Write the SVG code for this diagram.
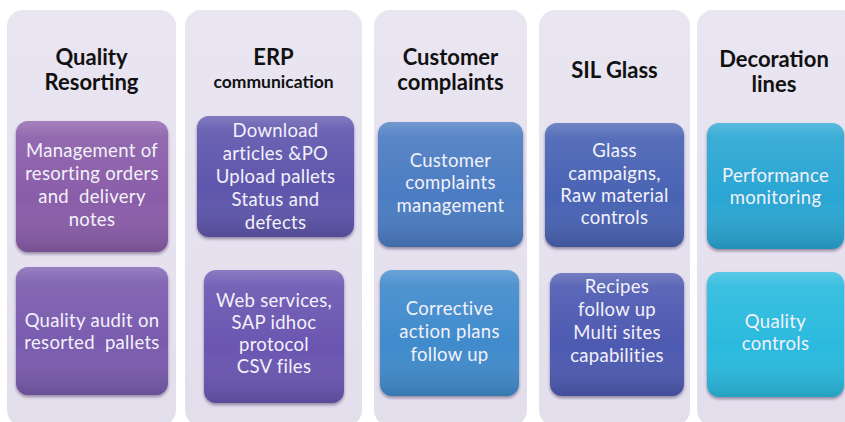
<svg xmlns="http://www.w3.org/2000/svg" width="845" height="422" viewBox="0 0 845 422">
  <defs>
    <linearGradient id="colFill" x1="0" y1="0" x2="0" y2="1">
      <stop offset="0" stop-color="#e9e5f1"/>
      <stop offset="1" stop-color="#e3deec"/>
    </linearGradient>
    <linearGradient id="gloss" x1="0" y1="0" x2="0" y2="1">
      <stop offset="0" stop-color="#ffffff" stop-opacity="0.22"/>
      <stop offset="0.12" stop-color="#ffffff" stop-opacity="0.08"/>
      <stop offset="0.6" stop-color="#ffffff" stop-opacity="0"/>
      <stop offset="1" stop-color="#000000" stop-opacity="0.14"/>
    </linearGradient>
    <filter id="shadow" x="-10%" y="-10%" width="120%" height="125%">
      <feDropShadow dx="0" dy="2" stdDeviation="1.6" flood-color="#2a1f40" flood-opacity="0.45"/>
    </filter>
    <style>
      .col { fill: url(#colFill); }
      .box { filter: url(#shadow); }
      .gloss { fill: url(#gloss); }
      .head { font-family: Lato, "Open Sans", "Liberation Sans", sans-serif; font-weight: bold; font-size: 22px; fill: #111111; text-anchor: middle; }
      .sub { font-size: 17.5px; }
      .txt { font-family: Lato, "Open Sans", "Liberation Sans", sans-serif; font-size: 18.5px; letter-spacing: 0.3px; fill: #f3f1f9; text-anchor: middle; white-space: pre; }
    </style>
  </defs>

  <rect width="845" height="422" fill="#ffffff"/>

  <!-- Column 1: Quality Resorting -->
  <g id="col-quality-resorting">
    <rect class="col" x="7" y="10" width="169" height="416" rx="16"/>
    <text class="head" x="91.5" y="65">Quality</text>
    <text class="head" x="91.5" y="90">Resorting</text>
  </g>
  <g id="box-resorting-orders">
    <rect class="box" x="16" y="121" width="152" height="131" rx="12" fill="#8a5da9"/>
    <rect class="gloss" x="16" y="121" width="152" height="131" rx="12"/>
    <text class="txt" x="92" y="157">Management of</text>
    <text class="txt" x="92" y="180">resorting orders</text>
    <text class="txt" x="92" y="203">and  delivery</text>
    <text class="txt" x="92" y="226">notes</text>
  </g>
  <g id="box-quality-audit">
    <rect class="box" x="16" y="267" width="152" height="128" rx="12" fill="#7a5baf"/>
    <rect class="gloss" x="16" y="267" width="152" height="128" rx="12"/>
    <text class="txt" x="92" y="327">Quality audit on</text>
    <text class="txt" x="92" y="349">resorted  pallets</text>
  </g>

  <!-- Column 2: ERP communication -->
  <g id="col-erp">
    <rect class="col" x="185" y="10" width="177" height="416" rx="16"/>
    <text class="head" x="273.5" y="65">ERP</text>
    <text class="head sub" x="273.5" y="88">communication</text>
  </g>
  <g id="box-erp-data">
    <rect class="box" x="197" y="116" width="157" height="121" rx="12" fill="#5e56ad"/>
    <rect class="gloss" x="197" y="116" width="157" height="121" rx="12"/>
    <text class="txt" x="275.5" y="137">Download</text>
    <text class="txt" x="275.5" y="160">articles &amp;PO</text>
    <text class="txt" x="275.5" y="183">Upload pallets</text>
    <text class="txt" x="275.5" y="206">Status and</text>
    <text class="txt" x="275.5" y="229">defects</text>
  </g>
  <g id="box-erp-protocols">
    <rect class="box" x="204" y="270" width="140" height="133" rx="12" fill="#6a57b1"/>
    <rect class="gloss" x="204" y="270" width="140" height="133" rx="12"/>
    <text class="txt" x="274" y="307">Web services,</text>
    <text class="txt" x="274" y="329">SAP idhoc</text>
    <text class="txt" x="274" y="351">protocol</text>
    <text class="txt" x="274" y="373">CSV files</text>
  </g>

  <!-- Column 3: Customer complaints -->
  <g id="col-customer-complaints">
    <rect class="col" x="374" y="10" width="153" height="416" rx="16"/>
    <text class="head" x="450.5" y="65">Customer</text>
    <text class="head" x="450.5" y="90">complaints</text>
  </g>
  <g id="box-complaints-management">
    <rect class="box" x="378" y="122" width="145" height="125" rx="12" fill="#4b7cc2"/>
    <rect class="gloss" x="378" y="122" width="145" height="125" rx="12"/>
    <text class="txt" x="450.5" y="167">Customer</text>
    <text class="txt" x="450.5" y="189">complaints</text>
    <text class="txt" x="450.5" y="212">management</text>
  </g>
  <g id="box-corrective-actions">
    <rect class="box" x="380" y="270" width="139" height="126" rx="12" fill="#3f8bcc"/>
    <rect class="gloss" x="380" y="270" width="139" height="126" rx="12"/>
    <text class="txt" x="449.5" y="315">Corrective</text>
    <text class="txt" x="449.5" y="338">action plans</text>
    <text class="txt" x="449.5" y="361">follow up</text>
  </g>

  <!-- Column 4: SIL Glass -->
  <g id="col-sil-glass">
    <rect class="col" x="539" y="10" width="151" height="416" rx="16"/>
    <text class="head" x="614.5" y="78">SIL Glass</text>
  </g>
  <g id="box-glass-campaigns">
    <rect class="box" x="545" y="123" width="139" height="124" rx="12" fill="#4a63b4"/>
    <rect class="gloss" x="545" y="123" width="139" height="124" rx="12"/>
    <text class="txt" x="614.5" y="157">Glass</text>
    <text class="txt" x="614.5" y="180">campaigns,</text>
    <text class="txt" x="614.5" y="202">Raw material</text>
    <text class="txt" x="614.5" y="224">controls</text>
  </g>
  <g id="box-recipes">
    <rect class="box" x="550" y="273" width="134" height="123" rx="12" fill="#4e5ab1"/>
    <rect class="gloss" x="550" y="273" width="134" height="123" rx="12"/>
    <text class="txt" x="617" y="293">Recipes</text>
    <text class="txt" x="617" y="316">follow up</text>
    <text class="txt" x="617" y="339">Multi sites</text>
    <text class="txt" x="617" y="362">capabilities</text>
  </g>

  <!-- Column 5: Decoration lines -->
  <g id="col-decoration-lines">
    <rect class="col" x="697" y="10" width="160" height="416" rx="16"/>
    <text class="head" x="774" y="67">Decoration</text>
    <text class="head" x="774" y="92">lines</text>
  </g>
  <g id="box-performance">
    <rect class="box" x="707" y="123" width="137" height="126" rx="12" fill="#2aa6d3"/>
    <rect class="gloss" x="707" y="123" width="137" height="126" rx="12"/>
    <text class="txt" x="775.5" y="182">Performance</text>
    <text class="txt" x="775.5" y="204">monitoring</text>
  </g>
  <g id="box-quality-controls">
    <rect class="box" x="707" y="272" width="137" height="125" rx="12" fill="#2cbade"/>
    <rect class="gloss" x="707" y="272" width="137" height="125" rx="12"/>
    <text class="txt" x="775.5" y="328">Quality</text>
    <text class="txt" x="775.5" y="350">controls</text>
  </g>

  <!-- no connectors in this layout -->
  <g id="connectors"/>
</svg>
